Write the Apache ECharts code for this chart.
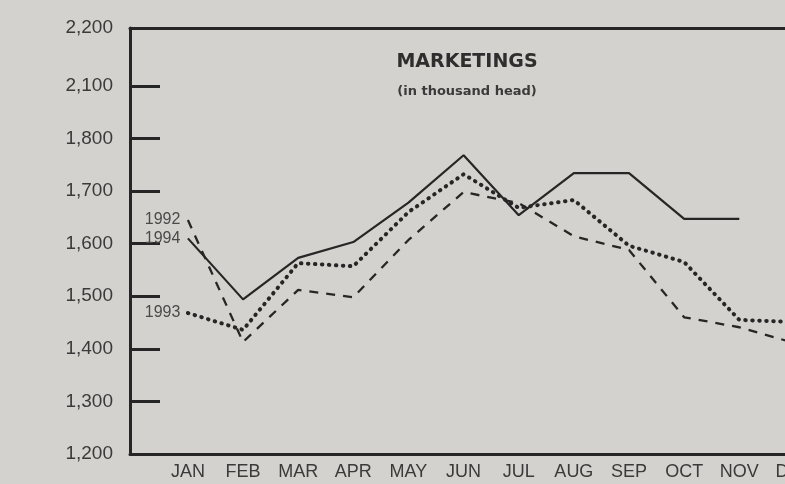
<!DOCTYPE html>
<html>
<head>
<meta charset="utf-8">
<script src="https://cdn.jsdelivr.net/npm/echarts@6/dist/echarts.min.js"></script>
<style>
html,body{margin:0;padding:0;background:#d3d2ce;overflow:hidden;}
#chart{width:840px;height:484px;}
</style>
</head>
<body>
<div id="chart"></div>
<script>
var months = ['JAN','FEB','MAR','APR','MAY','JUN','JUL','AUG','SEP','OCT','NOV','DEC'];
var y1992 = [1645, 1413, 1512, 1498, 1607, 1698, 1677, 1614, 1588, 1460, 1441, 1411];
var y1993 = [1468, 1436, 1563, 1557, 1660, 1732, 1668, 1683, 1596, 1565, 1455, 1451];
var y1994 = [1610, 1494, 1573, 1603, 1678, 1768, 1654, 1734, 1734, 1647, 1647];
var yTickValues = [1200, 1300, 1400, 1500, 1600, 1700, 1800, 1900, 2010];
var yTickLabels = ['1,200','1,300','1,400','1,500','1,600','1,700','1,800','2,100','2,200'];
var seriesNames = ['1992', '1993', '1994'];

function toData(arr) {
  return arr.map(function (v, i) {
    var item = { value: [i, v] };
    if (i === 0) {
      item.label = { show: true, position: 'left', distance: 7, formatter: '{a}',
        color: '#4a4a4a', fontSize: 16, fontFamily: 'Liberation Sans, Arial, sans-serif' };
    }
    return item;
  });
}

var ink = '#262626';
var chart = echarts.init(document.getElementById('chart'), null, { renderer: 'canvas' });
chart.setOption({
  backgroundColor: '#d3d2ce',
  animation: false,
  title: {
    text: 'MARKETINGS',
    subtext: '(in thousand head)',
    left: 462,
    top: 46,
    textAlign: 'center',
    itemGap: 11,
    textStyle: { fontSize: 19, fontWeight: 'bold', color: '#2e2e2e', lineHeight: 22,
      fontFamily: 'DejaVu Sans, sans-serif' },
    subtextStyle: { fontSize: 13, fontWeight: 'bold', color: '#3a3a3a', lineHeight: 16,
      fontFamily: 'DejaVu Sans, sans-serif' }
  },
  grid: { left: 130, top: 28, bottom: 30, right: 18 },
  xAxis: [{
    type: 'value',
    min: -1.05,
    max: 11.5,
    axisLine: { show: true, onZero: false, lineStyle: { color: ink, width: 3 } },
    axisTick: { show: false },
    splitLine: { show: false },
    axisLabel: {
      customValues: [0,1,2,3,4,5,6,7,8,9,10,11],
      formatter: function (v) { return months[Math.round(v)] || ''; },
      color: '#3a3a3a', fontSize: 18, margin: 9,
      fontFamily: 'Liberation Sans, Arial, sans-serif'
    }
  }, {
    type: 'value',
    position: 'top',
    min: -1.05,
    max: 11.5,
    axisLine: { show: true, onZero: false, lineStyle: { color: ink, width: 3 } },
    axisTick: { show: false },
    splitLine: { show: false },
    axisLabel: { show: false }
  }],
  yAxis: {
    type: 'value',
    min: 1200,
    max: 2010,
    axisLine: { show: true, onZero: false, lineStyle: { color: ink, width: 3 } },
    splitLine: { show: false },
    axisTick: {
      show: true, inside: true, length: 30,
      customValues: [1300,1400,1500,1600,1700,1800,1900],
      lineStyle: { color: ink, width: 3 }
    },
    axisLabel: {
      customValues: yTickValues,
      showMaxLabel: true, showMinLabel: true,
      formatter: function (v) {
        var k = yTickValues.indexOf(v);
        return k >= 0 ? yTickLabels[k] : '';
      },
      color: '#3a3a3a', fontSize: 19, margin: 17,
      fontFamily: 'Liberation Sans, Arial, sans-serif'
    }
  },
  series: [{
    name: seriesNames[0], type: 'line', data: toData(y1992),
    symbol: 'circle', symbolSize: 1, itemStyle: { color: 'rgba(0,0,0,0)' },
    lineStyle: { color: ink, width: 2.3, type: [9, 8] }
  }, {
    name: seriesNames[1], type: 'line', data: toData(y1993),
    symbol: 'circle', symbolSize: 1, itemStyle: { color: 'rgba(0,0,0,0)' },
    lineStyle: { color: ink, width: 4, type: [0.5, 6.5], cap: 'round' }
  }, {
    name: seriesNames[2], type: 'line', data: toData(y1994),
    symbol: 'circle', symbolSize: 1, itemStyle: { color: 'rgba(0,0,0,0)' },
    lineStyle: { color: ink, width: 2.2, type: 'solid' }
  }]
});
</script>
</body>
</html>
